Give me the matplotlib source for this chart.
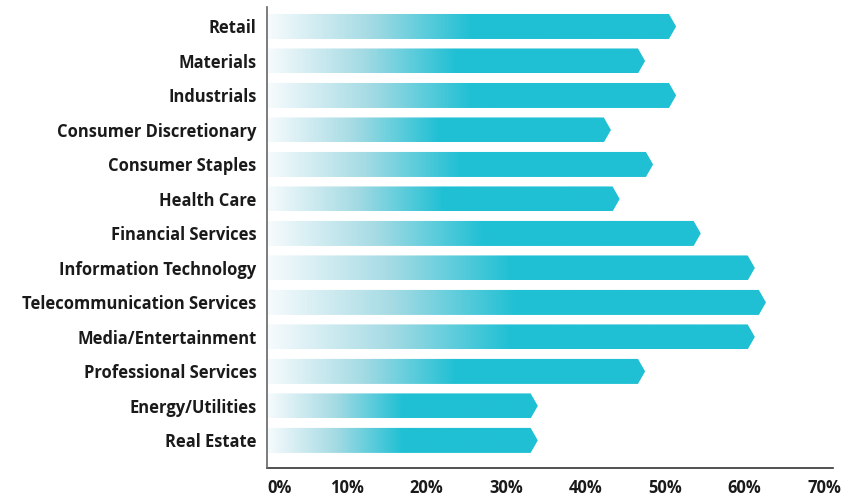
import numpy as np
import matplotlib
matplotlib.use("Agg")
import matplotlib.pyplot as plt
from matplotlib.patches import Polygon
from matplotlib.colors import LinearSegmentedColormap

categories = ["Retail", "Materials", "Industrials", "Consumer Discretionary",
              "Consumer Staples", "Health Care", "Financial Services",
              "Information Technology", "Telecommunication Services",
              "Media/Entertainment", "Professional Services",
              "Energy/Utilities", "Real Estate"]
values = [51.4, 47.5, 51.4, 43.2, 48.5, 44.3, 54.5, 61.3, 62.7, 61.3, 47.5, 34.0, 34.0]
tick_values = [0, 10, 20, 30, 40, 50, 60, 70]
tick_labels = ["0%", "10%", "20%", "30%", "40%", "50%", "60%", "70%"]

CYAN = "#20C0D4"
cmap = LinearSegmentedColormap.from_list(
    "fade", [(0.0, "#F7FBFD"), (0.5, "#A6DBE4"), (1.0, CYAN)])
FONT = ["Open Sans", "DejaVu Sans"]

fig = plt.figure(figsize=(8.45, 4.98), dpi=100)
ax = fig.add_axes([267.5 / 845, 30 / 498, (833 - 267.5) / 845, (491 - 30) / 498])

bar_h = 0.725
tip = 0.9  # chevron depth in data units
for i, v in enumerate(values):
    y0, y1 = i - bar_h / 2, i + bar_h / 2
    poly = Polygon([(0, y0), (v - tip, y0), (v, i), (v - tip, y1), (0, y1)],
                   closed=True, facecolor="none", edgecolor="none")
    ax.add_patch(poly)
    # gradient over the first half of the bar, solid afterwards
    xs = np.linspace(0, v, 400)
    grad = np.clip(xs / (0.5 * v), 0, 1)[None, :]
    im = ax.imshow(grad, cmap=cmap, vmin=0, vmax=1, aspect="auto",
                   extent=(0, v, y1, y0), interpolation="bilinear", zorder=2)
    im.set_clip_path(poly)

ax.set_xlim(0, (833 - 267.5) / 7.95)
ax.set_ylim(len(values) - 1 + 0.8, -0.565)

ax.set_yticks(range(len(categories)))
ax.set_yticklabels(categories, fontsize=11.9, fontweight="bold",
                   family=FONT, color="#1a1a1a")
ax.set_xticks(tick_values)
ax.set_xticklabels(tick_labels, fontsize=11.9, fontweight="bold",
                   family=FONT, color="#1a1a1a")
ax.get_xticklabels()[0].set_horizontalalignment("left")
ax.tick_params(axis="y", length=0, pad=8)
ax.tick_params(axis="x", length=0, pad=8)

for s in ["top", "right"]:
    ax.spines[s].set_visible(False)
ax.spines["left"].set_color("#666666")
ax.spines["left"].set_linewidth(1.2)
ax.spines["bottom"].set_color("#333333")
ax.spines["bottom"].set_linewidth(1.2)
ax.spines["left"].set_zorder(3)

fig.savefig("out.png", dpi=100)
